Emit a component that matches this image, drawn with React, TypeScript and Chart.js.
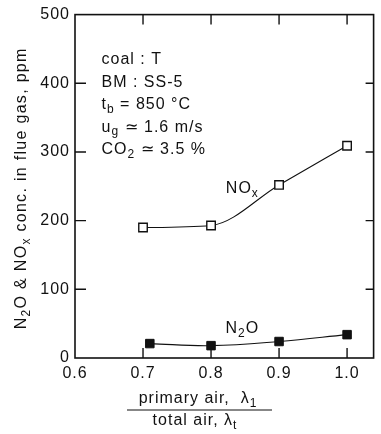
import React, { useEffect, useRef } from "react";
import { Chart, registerables } from "chart.js";

Chart.register(...registerables);

// Measured emissions vs. primary-air ratio
const lambdaNOx = [0.7, 0.8, 0.9, 1.0];
const noxPpm = [190, 193, 252, 309];
const lambdaN2O = [0.71, 0.8, 0.9, 1.0];
const n2oPpm = [21, 18, 24, 34];

const xTickValues = [0.6, 0.7, 0.8, 0.9, 1.0];
const yTickValues = [0, 100, 200, 300, 400, 500];

type Run = { t: string; sub?: boolean };

const conditionLines: Run[][] = [
  [{ t: "coal : T" }],
  [{ t: "BM : SS-5" }],
  [{ t: "t" }, { t: "b", sub: true }, { t: " = 850 °C" }],
  [{ t: "u" }, { t: "g", sub: true }, { t: " ≃ 1.6 m/s" }],
  [{ t: "CO" }, { t: "2", sub: true }, { t: " ≃ 3.5 %" }],
];
const yTitle: Run[] = [
  { t: "N" }, { t: "2", sub: true }, { t: "O & NO" }, { t: "x", sub: true },
  { t: " conc. in flue gas, ppm" },
];
const xTitleTop: Run[] = [{ t: "primary air,  λ" }, { t: "1", sub: true }];
const xTitleBottom: Run[] = [{ t: "total air, λ" }, { t: "t", sub: true }];
const noxLabel: Run[] = [{ t: "NO" }, { t: "x", sub: true }];
const n2oLabel: Run[] = [{ t: "N" }, { t: "2", sub: true }, { t: "O" }];

const FAMILY = '"Liberation Sans", Arial, Helvetica, sans-serif';
const INK = "#111";

function drawRuns(
  ctx: CanvasRenderingContext2D,
  runs: Run[],
  x: number,
  y: number,
  size: number,
  align: "left" | "center" = "left"
) {
  const subSize = Math.round(size * 0.72);
  const widths = runs.map((r) => {
    ctx.font = `${r.sub ? subSize : size}px ${FAMILY}`;
    return ctx.measureText(r.t).width;
  });
  const total = widths.reduce((a, b) => a + b, 0);
  let cx = align === "center" ? x - total / 2 : x;
  ctx.textAlign = "left";
  ctx.textBaseline = "alphabetic";
  ctx.fillStyle = INK;
  runs.forEach((r, i) => {
    ctx.font = `${r.sub ? subSize : size}px ${FAMILY}`;
    ctx.fillText(r.t, cx, r.sub ? y + size * 0.22 : y);
    cx += widths[i];
  });
}

const framePlugin = {
  id: "frameAndText",
  beforeDraw(chart: any) {
    chart.ctx.letterSpacing = "1px";
  },
  afterDraw(chart: any) {
    const ctx: CanvasRenderingContext2D = chart.ctx;
    const { left, right, top, bottom } = chart.chartArea;
    const xs = chart.scales.x;
    const ys = chart.scales.y;
    ctx.save();
    ctx.letterSpacing = "1px";
    ctx.strokeStyle = INK;
    ctx.lineWidth = 1.6;
    ctx.strokeRect(left, top, right - left, bottom - top);

    // inward tick marks on all four sides
    ctx.lineWidth = 1.4;
    ctx.beginPath();
    xTickValues.slice(1).forEach((v) => {
      const px = xs.getPixelForValue(v);
      ctx.moveTo(px, bottom);
      ctx.lineTo(px, bottom - 10);
      ctx.moveTo(px, top);
      ctx.lineTo(px, top + 10);
    });
    yTickValues.slice(1, -1).forEach((v) => {
      const py = ys.getPixelForValue(v);
      ctx.moveTo(left, py);
      ctx.lineTo(left + 11, py);
      ctx.moveTo(right, py);
      ctx.lineTo(right - 8, py);
    });
    ctx.stroke();

    // operating conditions block
    const bx = xs.getPixelForValue(0.639);
    const by = ys.getPixelForValue(428);
    conditionLines.forEach((line, i) => drawRuns(ctx, line, bx, by + i * 22.6, 16));

    // series labels
    drawRuns(ctx, noxLabel, xs.getPixelForValue(0.846), ys.getPixelForValue(240), 16, "center");
    drawRuns(ctx, n2oLabel, xs.getPixelForValue(0.846), ys.getPixelForValue(36), 16, "center");

    // y-axis title (rotated)
    ctx.save();
    ctx.letterSpacing = "1.3px";
    ctx.translate(26, (top + bottom) / 2 + 2);
    ctx.rotate(-Math.PI / 2);
    drawRuns(ctx, yTitle, 0, 0, 16, "center");
    ctx.restore();

    // x-axis title as a fraction
    const fx = left + 120;
    drawRuns(ctx, xTitleTop, fx + 3, bottom + 45, 16, "center");
    ctx.lineWidth = 1.2;
    ctx.beginPath();
    ctx.moveTo(left + 52, bottom + 52);
    ctx.lineTo(left + 197, bottom + 52);
    ctx.stroke();
    drawRuns(ctx, xTitleBottom, fx, bottom + 67, 16, "center");
    ctx.restore();
  },
};

export default function App() {
  const ref = useRef<HTMLCanvasElement | null>(null);

  useEffect(() => {
    const canvas = ref.current;
    if (!canvas) return;
    const chart = new Chart(canvas, {
      type: "line",
      data: {
        datasets: [
          {
            label: "NOx",
            data: lambdaNOx.map((x, i) => ({ x, y: noxPpm[i] })),
            borderColor: INK,
            borderWidth: 1.1,
            backgroundColor: "#fff",
            pointStyle: "rect",
            pointRadius: 6,
            pointBorderWidth: 1.4,
            pointBorderColor: INK,
            pointBackgroundColor: "#fff",
            cubicInterpolationMode: "monotone",
          },
          {
            label: "N2O",
            data: lambdaN2O.map((x, i) => ({ x, y: n2oPpm[i] })),
            borderColor: INK,
            borderWidth: 1.1,
            backgroundColor: INK,
            pointStyle: "rect",
            pointRadius: 6,
            pointBorderWidth: 1,
            pointBorderColor: INK,
            pointBackgroundColor: INK,
            tension: 0.4,
          },
        ],
      },
      options: {
        responsive: false,
        animation: false,
        events: [],
        layout: { padding: { top: 12, right: 2, left: 0, bottom: 0 } },
        plugins: { legend: { display: false }, tooltip: { enabled: false } },
        scales: {
          x: {
            type: "linear",
            min: 0.6,
            max: 1.039,
            grid: { display: false, drawTicks: false },
            border: { display: false },
            afterBuildTicks: (s: any) => {
              s.ticks = xTickValues.map((value) => ({ value }));
            },
            afterFit: (s: any) => {
              s.height = 76;
            },
            ticks: {
              padding: 6,
              color: INK,
              maxRotation: 0,
              autoSkip: false,
              font: { family: FAMILY, size: 16 },
              callback: (v: any) => Number(v).toFixed(1),
            },
          },
          y: {
            type: "linear",
            min: 0,
            max: 500,
            grid: { display: false, drawTicks: false },
            border: { display: false },
            afterBuildTicks: (s: any) => {
              s.ticks = yTickValues.map((value) => ({ value }));
            },
            afterFit: (s: any) => {
              s.width = 75;
            },
            ticks: {
              padding: 5,
              color: INK,
              font: { family: FAMILY, size: 16 },
              callback: (v: any) => String(v),
            },
          },
        },
      },
      plugins: [framePlugin],
    } as any);
    return () => chart.destroy();
  }, []);

  return (
    <div style={{ position: "fixed", left: 0, top: 0, width: 381, height: 434, background: "#fff" }}>
      <canvas ref={ref} width={381} height={434} style={{ display: "block" }} />
    </div>
  );
}
